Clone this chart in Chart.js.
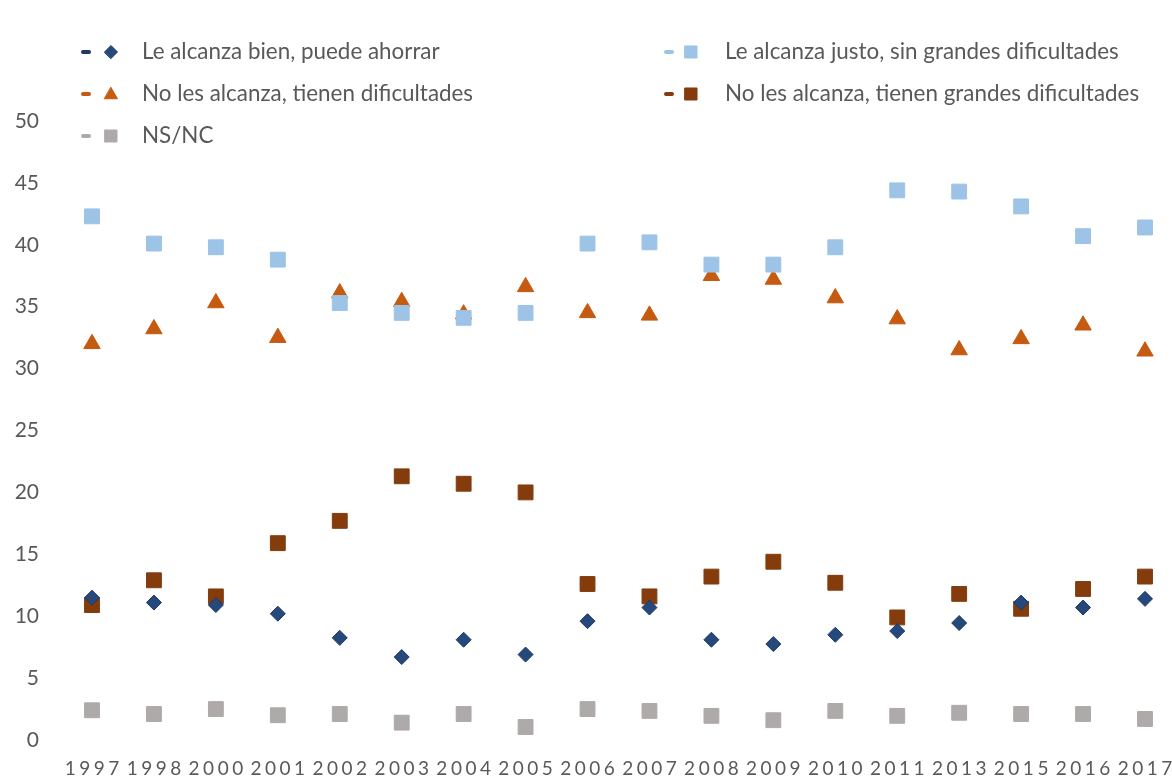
<!DOCTYPE html>
<html>
<head>
<meta charset="utf-8">
<script src="https://cdn.jsdelivr.net/npm/chart.js@4/dist/chart.umd.min.js"></script>
<style>
  html, body { margin: 0; padding: 0; background: #ffffff; }
  #wrap { width: 1172px; height: 777px; position: relative; }
</style>
</head>
<body>
<div id="wrap"><canvas id="c" width="1172" height="777"></canvas></div>
<script>
// Survey years
const years = ['1997','1998','2000','2001','2002','2003','2004','2005','2006','2007','2008','2009','2010','2011','2013','2015','2016','2017'];

// Share of households (%) by how far their income goes
const bienAhorrar      = [11.5, 11.1, 10.9, 10.2, 8.25, 6.7, 8.1, 6.9, 9.6, 10.7, 8.1, 7.75, 8.5, 8.8, 9.45, 11.1, 10.7, 11.4];
const justoSinDificult = [42.3, 40.1, 39.8, 38.8, 35.3, 34.5, 34.1, 34.5, 40.1, 40.2, 38.4, 38.4, 39.8, 44.4, 44.3, 43.1, 40.7, 41.4];
const noAlcanzaDificult= [32.0, 33.2, 35.3, 32.5, 36.1, 35.4, 34.4, 36.6, 34.5, 34.3, 37.5, 37.2, 35.7, 34.0, 31.5, 32.4, 33.5, 31.4];
const noAlcanzaGrandes = [10.9, 12.9, 11.6, 15.9, 17.7, 21.3, 20.7, 20.0, 12.6, 11.6, 13.2, 14.4, 12.7, 9.9, 11.8, 10.6, 12.2, 13.2];
const nsnc             = [2.4, 2.1, 2.5, 2.0, 2.1, 1.4, 2.1, 1.05, 2.5, 2.35, 1.95, 1.6, 2.35, 1.95, 2.2, 2.1, 2.1, 1.7];

// Y axis ticks
const yTicks = [0, 5, 10, 15, 20, 25, 30, 35, 40, 45, 50];

const seriesNames = [
  'Le alcanza bien, puede ahorrar',
  'Le alcanza justo, sin grandes dificultades',
  'No les alcanza, tienen dificultades',
  'No les alcanza, tienen grandes dificultades',
  'NS/NC'
];

const FONT = 'Lato, "Open Sans", "Noto Sans", sans-serif';
const TEXT = '#595959';

function series(label, data, style, radius, fill, border, dash) {
  return {
    label, data,
    showLine: false,
    pointStyle: style,
    pointRadius: radius,
    pointHoverRadius: radius,
    pointBackgroundColor: fill,
    pointBorderColor: border,
    pointBorderWidth: 1,
    dashColor: dash
  };
}

const datasets = [
  series(seriesNames[0], bienAhorrar, 'rectRot', 7.5, '#24497a', '#1f3864', '#1f3864'),
  series(seriesNames[1], justoSinDificult, 'rect', 10.5, '#9dc3e6', '#9dc3e6', '#9dc3e6'),
  series(seriesNames[2], noAlcanzaDificult, 'triangle', 9.5, '#c55a11', '#c55a11', '#c55a11'),
  series(seriesNames[3], noAlcanzaGrandes, 'rect', 10.5, '#843c0c', '#843c0c', '#843c0c'),
  series(seriesNames[4], nsnc, 'rect', 10.5, '#aeaaaa', '#aeaaaa', '#aeaaaa')
];

// Two-column legend drawn over the top of the plot
const gridLegend = {
  id: 'gridLegend',
  afterDraw(chart) {
    const ctx = chart.ctx;
    const cols = [{ dash: 81, mark: 111, text: 142 }, { dash: 664, mark: 691, text: 725 }];
    const rows = [52, 94, 136];
    const legendSizes = [6.5, 8.5, 7.5, 8.5, 8.5];
    ctx.save();
    chart.data.datasets.forEach((ds, i) => {
      const col = cols[i % 2];
      const y = rows[Math.floor(i / 2)];
      // short line stub
      ctx.strokeStyle = ds.dashColor;
      ctx.lineWidth = 4;
      ctx.lineCap = 'round';
      ctx.beginPath();
      ctx.moveTo(col.dash + 2, y);
      ctx.lineTo(col.dash + 8, y);
      ctx.stroke();
      // marker
      ctx.fillStyle = ds.pointBackgroundColor;
      ctx.strokeStyle = ds.pointBorderColor;
      ctx.lineWidth = 1;
      Chart.helpers.drawPoint(ctx, { pointStyle: ds.pointStyle, radius: legendSizes[i], rotation: 0, borderWidth: 1 }, col.mark, y + (ds.pointStyle === 'triangle' ? 1 : 0));
      // text
      ctx.fillStyle = TEXT;
      ctx.font = '22.4px ' + FONT;
      ctx.textAlign = 'left';
      ctx.textBaseline = 'middle';
      ctx.fillText(ds.label, col.text, y);
    });
    ctx.restore();
  }
};

// Spaced-out year labels on the category axis
const spacedYears = {
  id: 'spacedYears',
  beforeDraw(chart) {
    const sx = chart.scales.x;
    if (sx && !sx._spaced) {
      const orig = sx.drawLabels;
      sx.drawLabels = function (area) {
        const ctx = this.ctx;
        ctx.save();
        ctx.letterSpacing = '3.5px';
        ctx.translate(1.75, 0);
        orig.call(this, area);
        ctx.restore();
      };
      sx._spaced = true;
    }
  }
};

new Chart(document.getElementById('c'), {
  type: 'line',
  data: { labels: years, datasets },
  plugins: [spacedYears, gridLegend],
  options: {
    responsive: false,
    animation: false,
    layout: { padding: { top: 121, right: 27, left: 0, bottom: 0 } },
    plugins: {
      legend: { display: false },
      title: { display: false },
      tooltip: { enabled: false }
    },
    scales: {
      x: {
        type: 'category',
        offset: false,
        grid: { display: false, drawTicks: false },
        border: { display: false },
        ticks: {
          color: TEXT,
          font: { family: FONT, size: 19 },
          padding: 17,
          maxRotation: 0,
          autoSkip: false
        },
        afterFit(scale) {
          scale.height = 37;
          scale.paddingLeft = 0;
          scale.paddingRight = 0;
        }
      },
      y: {
        min: 0,
        max: 50,
        grid: { display: false, drawTicks: false },
        border: { display: false },
        afterBuildTicks(scale) { scale.ticks = yTicks.map(v => ({ value: v })); },
        ticks: {
          color: TEXT,
          font: { family: FONT, size: 21 },
          padding: 53
        },
        afterFit(scale) {
          scale.width = 92;
          scale.paddingTop = 0;
          scale.paddingBottom = 0;
        }
      }
    }
  }
});
</script>
</body>
</html>
